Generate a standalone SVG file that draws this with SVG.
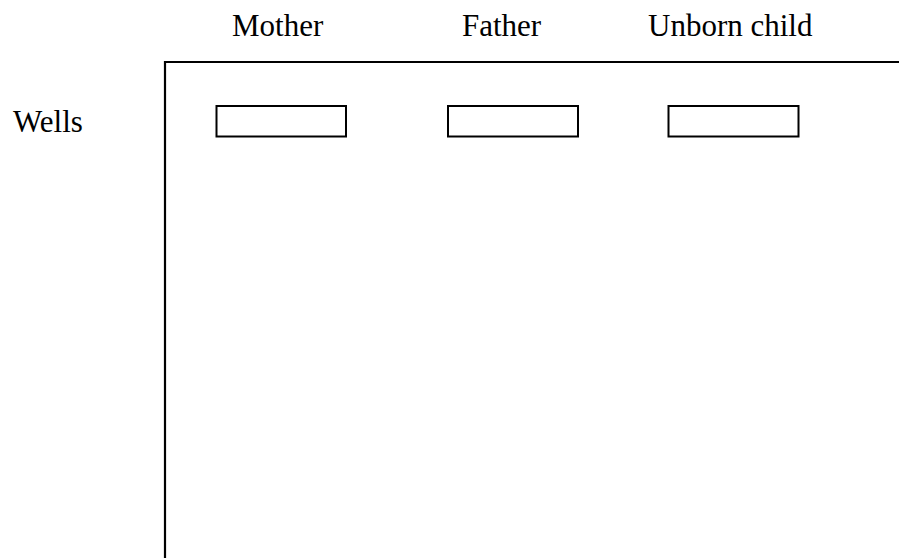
<svg xmlns="http://www.w3.org/2000/svg" width="899" height="558" viewBox="0 0 899 558">
<style>
.t{font-family:"Liberation Serif","Times New Roman",serif;font-size:31px;fill:#000}
.w{fill:#fff;stroke:#000;stroke-width:2}
.g{fill:none;stroke:#000;stroke-width:2.2}
</style>
<rect width="899" height="558" fill="#fff"/>
<g id="labels">
<text class="t" x="232" y="36">Mother</text>
<text class="t" x="462" y="36">Father</text>
<text class="t" x="648" y="36">Unborn child</text>
<text class="t" x="13" y="132">Wells</text>
</g>
<g id="gel">
<path class="g" d="M165 560 V62 H901"/>
</g>
<g id="well-mother"><rect class="w" x="216.5" y="106" width="129.5" height="30.5"/></g>
<g id="well-father"><rect class="w" x="448" y="106" width="130" height="30.5"/></g>
<g id="well-child"><rect class="w" x="668.5" y="106" width="130" height="30.5"/></g>
</svg>
